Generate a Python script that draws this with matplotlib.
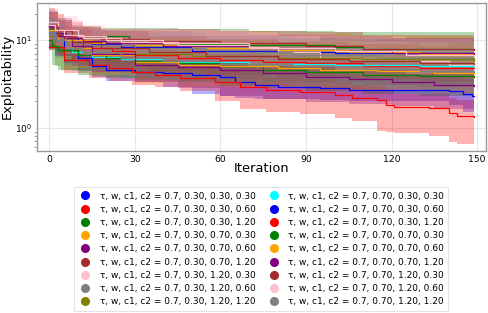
import numpy as np
import matplotlib
matplotlib.use("Agg")
import matplotlib.pyplot as plt

labels = [
    "τ, w, c1, c2 = 0.7, 0.30, 0.30, 0.30",
    "τ, w, c1, c2 = 0.7, 0.30, 0.30, 0.60",
    "τ, w, c1, c2 = 0.7, 0.30, 0.30, 1.20",
    "τ, w, c1, c2 = 0.7, 0.30, 0.70, 0.30",
    "τ, w, c1, c2 = 0.7, 0.30, 0.70, 0.60",
    "τ, w, c1, c2 = 0.7, 0.30, 0.70, 1.20",
    "τ, w, c1, c2 = 0.7, 0.30, 1.20, 0.30",
    "τ, w, c1, c2 = 0.7, 0.30, 1.20, 0.60",
    "τ, w, c1, c2 = 0.7, 0.30, 1.20, 1.20",
    "τ, w, c1, c2 = 0.7, 0.70, 0.30, 0.30",
    "τ, w, c1, c2 = 0.7, 0.70, 0.30, 0.60",
    "τ, w, c1, c2 = 0.7, 0.70, 0.30, 1.20",
    "τ, w, c1, c2 = 0.7, 0.70, 0.70, 0.30",
    "τ, w, c1, c2 = 0.7, 0.70, 0.70, 0.60",
    "τ, w, c1, c2 = 0.7, 0.70, 0.70, 1.20",
    "τ, w, c1, c2 = 0.7, 0.70, 1.20, 0.30",
    "τ, w, c1, c2 = 0.7, 0.70, 1.20, 0.60",
    "τ, w, c1, c2 = 0.7, 0.70, 1.20, 1.20",
]
colors = ["blue", "red", "green", "orange", "purple", "brown", "pink", "gray", "olive",
          "cyan", "blue", "red", "green", "orange", "purple", "brown", "pink", "gray"]

# step change points (iteration) and mean / lower / upper exploitability at each
iters = [
    [0, 1, 3, 6, 10, 15, 25, 50, 80, 100, 149],
    [0, 2, 5, 12, 22, 30, 45, 60, 75, 90, 110, 130, 149],
    [0, 2, 5, 28, 45, 70, 100, 110, 149],
    [0, 3, 8, 15, 30, 50, 80, 105, 130, 149],
    [0, 2, 6, 12, 20, 40, 70, 100, 120, 149],
    [0, 3, 8, 18, 35, 60, 90, 110, 149],
    [0, 3, 10, 20, 40, 70, 80, 95, 110, 125, 140, 149],
    [0, 2, 6, 14, 30, 55, 85, 115, 149],
    [0, 2, 4, 10, 25, 50, 80, 110, 149],
    [0, 2, 5, 8, 15, 25, 40, 70, 100, 130, 149],
    [0, 2, 5, 10, 15, 20, 30, 40, 50, 60, 65, 72, 80, 95, 105, 140, 145, 148, 149],
    [0, 5, 14, 21, 29, 37, 46, 58, 67, 76, 88, 100, 106, 115, 118, 121, 133, 140, 143, 149],
    [0, 1, 3, 10, 20, 30, 45, 60, 75, 90, 110, 130, 149],
    [0, 3, 8, 15, 30, 45, 60, 80, 95, 115, 135, 149],
    [0, 3, 8, 15, 30, 45, 60, 75, 90, 105, 120, 135, 149],
    [0, 3, 8, 18, 35, 55, 80, 105, 130, 149],
    [0, 2, 5, 12, 25, 45, 70, 100, 125, 149],
    [0, 2, 6, 12, 25, 40, 60, 85, 110, 130, 149],
]
means = [
    [14.5, 13, 11.5, 10.5, 9.6, 9.0, 8.4, 7.5, 7.3, 7.1, 7.05],
    [15, 13, 10.5, 8.2, 7.5, 6.7, 6.3, 5.9, 5.6, 5.4, 5.1, 4.8, 4.75],
    [13.5, 12, 11, 9.6, 9.0, 8.8, 8.4, 7.8, 7.8],
    [13, 11, 10, 9.3, 8.8, 8.2, 7.7, 7.3, 6.9, 6.8],
    [14, 12, 10.5, 9.8, 9.3, 8.6, 8.0, 7.4, 7.1, 7.0],
    [15, 12.5, 11, 10.3, 9.8, 9.2, 8.6, 7.9, 7.6],
    [16, 13, 11, 10, 9.3, 8.4, 7.2, 6.2, 6.0, 5.7, 5.2, 5.1],
    [13, 11, 9.6, 8.8, 8.0, 7.3, 6.8, 6.3, 6.0],
    [11, 8.5, 7.5, 7.2, 6.9, 6.6, 6.3, 6.0, 5.8],
    [12, 10, 8.2, 7.2, 6.4, 6.0, 5.6, 5.3, 5.15, 5.05, 5.0],
    [12, 10, 7.7, 6.2, 5.0, 4.55, 4.35, 4.17, 4.0, 3.8, 3.35, 3.07, 2.93, 2.82, 2.7, 2.6, 2.4, 2.3, 2.3],
    [8.4, 5.9, 5.2, 4.75, 4.35, 4.0, 3.66, 3.35, 2.93, 2.7, 2.57, 2.36, 2.2, 2.07, 1.82, 1.71, 1.68, 1.46, 1.36, 1.34],
    [10, 8.5, 7.7, 6.7, 6.2, 5.75, 5.5, 5.0, 4.6, 4.3, 4.0, 3.85, 3.8],
    [13, 10, 8, 6.8, 5.6, 5.2, 5.0, 4.8, 4.6, 4.4, 4.15, 4.1],
    [14, 11, 8.5, 7.0, 5.2, 4.9, 4.6, 4.2, 3.8, 3.55, 3.35, 3.1, 3.0],
    [14, 11.5, 9.5, 8.2, 7.2, 6.6, 6.1, 5.7, 5.4, 5.3],
    [15, 13, 11.5, 10.5, 9.5, 8.8, 8.2, 7.4, 6.8, 6.5],
    [12, 10, 8.2, 7.2, 6.3, 5.8, 5.3, 5.0, 4.7, 4.45, 4.3],
]
lowers = [
    [9.0, 8.5, 7.8, 7.2, 6.5, 6.0, 5.6, 5.0, 4.8, 4.6, 4.6],
    [9.0, 8.0, 6.5, 5.2, 4.7, 4.2, 3.9, 3.6, 3.4, 3.3, 3.1, 2.9, 2.9],
    [8.0, 7.0, 6.5, 6.0, 5.8, 5.6, 5.4, 5.0, 5.0],
    [8.0, 6.5, 6.0, 5.6, 5.3, 5.0, 4.8, 4.6, 4.4, 4.4],
    [8.5, 7.4, 6.5, 6.0, 5.7, 5.3, 4.9, 4.6, 4.4, 4.3],
    [9.0, 7.8, 6.8, 6.4, 6.0, 5.7, 5.3, 4.9, 4.7],
    [9.5, 8.0, 6.8, 6.2, 5.7, 5.2, 4.5, 3.9, 3.7, 3.5, 3.2, 3.1],
    [8.0, 6.8, 6.0, 5.4, 5.0, 4.5, 4.2, 3.9, 3.7],
    [7.8, 5.0, 4.6, 4.4, 4.2, 4.0, 3.9, 3.7, 3.6],
    [8.0, 6.2, 5.0, 4.4, 3.9, 3.7, 3.4, 3.2, 3.1, 3.1, 3.0],
    [8.0, 6.5, 5.5, 4.6, 3.8, 3.4, 3.3, 2.9, 2.4, 2.3, 2.2, 2.1, 2.1, 2.05, 2.0, 1.8, 1.5, 1.5, 1.5],
    [7.7, 4.2, 3.7, 3.4, 3.1, 2.9, 2.6, 2.0, 1.65, 1.5, 1.42, 1.3, 1.2, 0.92, 0.9, 0.86, 0.8, 0.69, 0.66, 0.66],
    [7.7, 5.2, 4.6, 4.0, 3.7, 3.5, 3.3, 3.0, 2.8, 2.6, 2.4, 2.3, 2.3],
    [8.0, 6.0, 4.8, 4.0, 3.2, 2.9, 2.9, 2.8, 2.7, 2.6, 2.5, 2.5],
    [8.0, 6.5, 5.0, 4.3, 3.3, 2.8, 2.3, 2.1, 1.95, 1.85, 1.75, 1.65, 1.6],
    [8.5, 7.0, 5.8, 5.0, 4.4, 4.0, 3.7, 3.5, 3.3, 3.2],
    [9.0, 8.0, 7.0, 6.4, 5.8, 5.4, 5.0, 4.5, 4.1, 4.0],
    [7.8, 6.2, 5.0, 4.4, 3.8, 3.5, 3.2, 3.0, 2.9, 2.7, 2.6],
]
uppers = [
    [21, 19, 16, 14.5, 13.5, 13, 12.5, 11, 10.5, 10.2, 10.2],
    [23, 20, 16, 12.5, 11.5, 10.5, 10, 9.5, 9.0, 8.8, 8.4, 8.0, 8.0],
    [22, 18, 13.6, 13.6, 13.3, 12.8, 12.4, 12.2, 12.2],
    [20, 17, 14.5, 13.5, 13, 12.5, 12, 11.5, 11, 11],
    [21, 18, 15, 13.5, 13, 12.5, 11.8, 11, 10.6, 10.5],
    [22, 18, 14.5, 13.5, 13.2, 12.8, 12.2, 11.5, 11.2],
    [23, 19, 15, 13.5, 13, 12.2, 11, 9.8, 9.5, 9.2, 8.6, 8.5],
    [20, 17, 14, 13, 12, 11, 10.5, 9.8, 9.5],
    [17, 13, 11.5, 11, 10.5, 10, 9.7, 9.3, 9.0],
    [18, 15, 12.5, 11, 9.8, 9.3, 8.8, 8.4, 8.2, 8.0, 8.0],
    [18, 15, 11, 9.0, 7.5, 6.8, 6.4, 6.1, 5.9, 5.6, 5.0, 4.6, 4.4, 4.2, 4.0, 3.9, 3.6, 3.5, 3.5],
    [12, 8.2, 7.2, 6.6, 6.0, 5.5, 5.0, 4.6, 4.1, 3.8, 3.6, 3.3, 3.1, 2.9, 2.6, 2.45, 2.4, 2.2, 2.05, 2.0],
    [16, 13.5, 12, 10.5, 9.8, 9.2, 8.8, 8.2, 7.6, 7.2, 6.8, 6.5, 6.5],
    [20, 15, 12, 10.5, 9.0, 8.5, 8.2, 7.8, 7.5, 7.2, 6.9, 6.9],
    [21, 17, 13, 10.5, 8.0, 7.5, 7.2, 6.7, 6.2, 5.8, 5.5, 5.2, 5.1],
    [21, 17, 14, 12.5, 11, 10.2, 9.5, 9.0, 8.6, 8.4],
    [23, 20, 17, 13.5, 13, 12.5, 12, 11, 10.2, 9.8],
    [18, 15, 12.5, 11, 9.8, 9.0, 8.4, 8.0, 7.6, 7.2, 7.0],
]

fig = plt.figure(figsize=(4.88, 3.13), dpi=100)
ax = fig.add_axes([36.7 / 488, 1 - 150.7 / 313, (485.5 - 36.7) / 488, 148 / 313])

handles = []
for i in range(len(labels)):
    ax.fill_between(iters[i], lowers[i], uppers[i], step="post", color=colors[i], alpha=0.3, lw=0)
for i in range(len(labels)):
    ax.step(iters[i], means[i], where="post", color=colors[i], lw=0.9)
    handles.append(plt.Line2D([], [], ls="none", marker="o", color=colors[i], markersize=5.5))

ax.set_yscale("log")
ax.set_xlim(-4.4, 152.9)
ax.set_ylim(0.547, 26.6)
ax.set_xticks([0, 30, 60, 90, 120, 150])
ax.grid(True, which="major", color="#e6e6e6", lw=0.8)
ax.set_axisbelow(True)
for s in ax.spines.values():
    s.set_color("#999999")
    s.set_linewidth(1.0)
ax.tick_params(axis="both", which="major", length=0, labelsize=6.7, pad=3)
ax.tick_params(axis="y", which="minor", length=2, color="#999999", width=0.6)
ax.set_xlabel("Iteration", fontsize=9.4, labelpad=-1)
ax.set_ylabel("Exploitability", fontsize=9.4, labelpad=1)

leg = fig.legend(handles, labels, loc="upper center", bbox_to_anchor=(261 / 488, 1 - 187 / 313),
                 ncol=2, fontsize=6.5, labelspacing=0.47, handlelength=1.6, handletextpad=0.8,
                 columnspacing=1.2, frameon=True, fancybox=True, borderpad=0.5, borderaxespad=0)
leg.get_frame().set_edgecolor("#dddddd")
leg.get_frame().set_linewidth(0.8)

fig.savefig("out.png", dpi=100)
